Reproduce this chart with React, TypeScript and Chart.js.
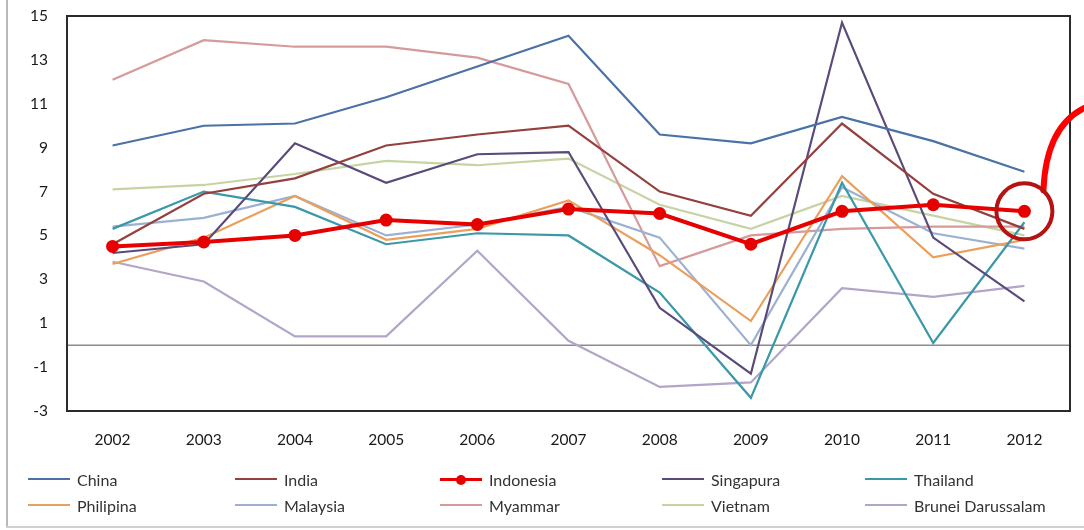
import React, { useEffect, useRef } from "react";
import { Chart, registerables } from "chart.js";

Chart.register(...registerables);

// ---------- data ----------
const years = ["2002", "2003", "2004", "2005", "2006", "2007", "2008", "2009", "2010", "2011", "2012"];
const yTicks = [-3, -1, 1, 3, 5, 7, 9, 11, 13, 15];

const china = [9.1, 10.0, 10.1, 11.3, 12.7, 14.1, 9.6, 9.2, 10.4, 9.3, 7.9];
const india = [4.6, 6.9, 7.6, 9.1, 9.6, 10.0, 7.0, 5.9, 10.1, 6.9, 5.3];
const indonesia = [4.5, 4.7, 5.0, 5.7, 5.5, 6.2, 6.0, 4.6, 6.1, 6.4, 6.1];
const singapura = [4.2, 4.6, 9.2, 7.4, 8.7, 8.8, 1.7, -1.3, 14.7, 4.9, 2.0];
const thailand = [5.3, 7.0, 6.3, 4.6, 5.1, 5.0, 2.4, -2.4, 7.4, 0.1, 5.6];
const philipina = [3.7, 4.9, 6.8, 4.8, 5.3, 6.6, 4.1, 1.1, 7.7, 4.0, 4.8];
const malaysia = [5.4, 5.8, 6.8, 5.0, 5.5, 6.3, 4.9, 0.0, 7.2, 5.1, 4.4];
const myammar = [12.1, 13.9, 13.6, 13.6, 13.1, 11.9, 3.6, 5.0, 5.3, 5.4, 5.4];
const vietnam = [7.1, 7.3, 7.8, 8.4, 8.2, 8.5, 6.4, 5.3, 6.8, 5.9, 5.0];
const brunei = [3.8, 2.9, 0.4, 0.4, 4.3, 0.2, -1.9, -1.7, 2.6, 2.2, 2.7];

const seriesNames = [
  "China", "India", "Indonesia", "Singapura", "Thailand",
  "Philipina", "Malaysia", "Myammar", "Vietnam", "Brunei Darussalam",
];
const seriesValues = [china, india, indonesia, singapura, thailand, philipina, malaysia, myammar, vietnam, brunei];
const seriesColors = [
  "#4a72a6", "#93403e", "#e60000", "#5a4a7c", "#3a98a9",
  "#eb9f5c", "#9cb1d2", "#d69a9a", "#c5d4a2", "#b2a5c9",
];
const highlightIndex = 2;

const FONT = "Lato, 'Open Sans', sans-serif";
const legendCols = [28, 235, 440, 662, 865];
const legendRows = [479, 505];

const overlayPlugin = {
  id: "overlay",
  beforeDatasetsDraw(chart: any) {
    const { ctx, chartArea, scales } = chart;
    const y0 = scales.y.getPixelForValue(0);
    ctx.save();
    ctx.strokeStyle = "#8c8c8c";
    ctx.lineWidth = 1.5;
    ctx.beginPath();
    ctx.moveTo(chartArea.left, y0);
    ctx.lineTo(chartArea.right, y0);
    ctx.stroke();
    ctx.restore();
  },
  afterDraw(chart: any) {
    const { ctx, chartArea } = chart;
    ctx.save();
    ctx.strokeStyle = "#2b2b2b";
    ctx.lineWidth = 2;
    ctx.strokeRect(chartArea.left, chartArea.top, chartArea.right - chartArea.left, chartArea.bottom - chartArea.top);
    // annotation around the last Indonesia point
    const meta = chart.getDatasetMeta(highlightIndex);
    const pt = meta.data[meta.data.length - 1];
    if (pt) {
      const px = pt.x, py = pt.y;
      ctx.strokeStyle = "#ff0000";
      ctx.lineWidth = 6;
      ctx.lineCap = "round";
      ctx.beginPath();
      ctx.moveTo(px + 19, py - 21);
      ctx.quadraticCurveTo(px + 22, py - 94, px + 72, py - 108);
      ctx.stroke();
      ctx.strokeStyle = "#b51212";
      ctx.lineWidth = 4;
      ctx.beginPath();
      ctx.arc(px, py, 28, 0, Math.PI * 2);
      ctx.stroke();
    }
    ctx.restore();
  },
};

function Legend() {
  return (
    <>
      {seriesNames.map((name, i) => {
        const col = i % 5;
        const row = Math.floor(i / 5);
        const isHi = i === highlightIndex;
        return (
          <div
            key={name}
            style={{
              position: "absolute",
              left: legendCols[col],
              top: legendRows[row] - 11,
              height: 22,
              display: "flex",
              alignItems: "center",
              fontFamily: FONT,
              fontSize: 16,
              color: "#333",
              whiteSpace: "nowrap",
            }}
          >
            <div style={{ position: "relative", width: 42, height: 12, marginRight: 7 }}>
              <div
                style={{
                  position: "absolute",
                  left: 0,
                  top: 5,
                  width: 42,
                  height: isHi ? 3 : 2,
                  background: seriesColors[i],
                }}
              />
              {isHi && (
                <div
                  style={{
                    position: "absolute",
                    left: 16,
                    top: 1.5,
                    width: 10,
                    height: 10,
                    borderRadius: 5,
                    background: seriesColors[i],
                  }}
                />
              )}
            </div>
            <span>{name}</span>
          </div>
        );
      })}
    </>
  );
}

export default function App() {
  const ref = useRef<HTMLCanvasElement | null>(null);

  useEffect(() => {
    if (!ref.current) return;
    const datasets = seriesNames.map((name, i) => {
      const isHi = i === highlightIndex;
      return {
        label: name,
        data: seriesValues[i],
        borderColor: seriesColors[i],
        backgroundColor: seriesColors[i],
        borderWidth: isHi ? 4 : 2.2,
        pointRadius: isHi ? 6.5 : 0,
        pointHoverRadius: isHi ? 6.5 : 0,
        pointBorderWidth: 0,
        pointBackgroundColor: seriesColors[i],
        tension: 0,
        fill: false,
        order: isHi ? 0 : 1,
      };
    });
    const chart = new Chart(ref.current, {
      type: "line",
      data: { labels: years, datasets },
      options: {
        animation: false,
        responsive: false,
        maintainAspectRatio: false,
        layout: { padding: { left: 0, right: 14, top: 16, bottom: 74 } },
        plugins: { legend: { display: false }, tooltip: { enabled: false } },
        scales: {
          x: {
            type: "category",
            offset: true,
            grid: { display: false, drawTicks: false },
            border: { display: false },
            ticks: {
              padding: 20,
              color: "#1a1a1a",
              font: { family: FONT, size: 15.5 },
              maxRotation: 0,
            },
            afterFit: (scale: any) => {
              scale.height = 45;
              scale.paddingLeft = 0;
              scale.paddingRight = 0;
            },
          },
          y: {
            min: -3,
            max: 15,
            grid: { display: false, drawTicks: false },
            border: { display: false },
            ticks: {
              padding: 19,
              color: "#1a1a1a",
              font: { family: FONT, size: 15.5 },
            },
            afterBuildTicks: (scale: any) => {
              scale.ticks = yTicks.map((v) => ({ value: v }));
            },
            afterFit: (scale: any) => {
              scale.width = 67;
              scale.paddingTop = 0;
              scale.paddingBottom = 0;
            },
          },
        },
      },
      plugins: [overlayPlugin],
    });
    return () => chart.destroy();
  }, []);

  return (
    <div style={{ position: "absolute", left: 0, top: 0, width: 1084, height: 530, background: "#fff", overflow: "hidden" }}>
      <canvas ref={ref} width={1084} height={530} style={{ position: "absolute", left: 0, top: 0, width: 1084, height: 530 }} />
      <div style={{ position: "absolute", left: 6, top: 0, width: 2, height: 528, background: "#b9b9b9" }} />
      <div style={{ position: "absolute", left: 6, top: 526, width: 1078, height: 2, background: "#d0d0d0" }} />
      <Legend />
    </div>
  );
}
